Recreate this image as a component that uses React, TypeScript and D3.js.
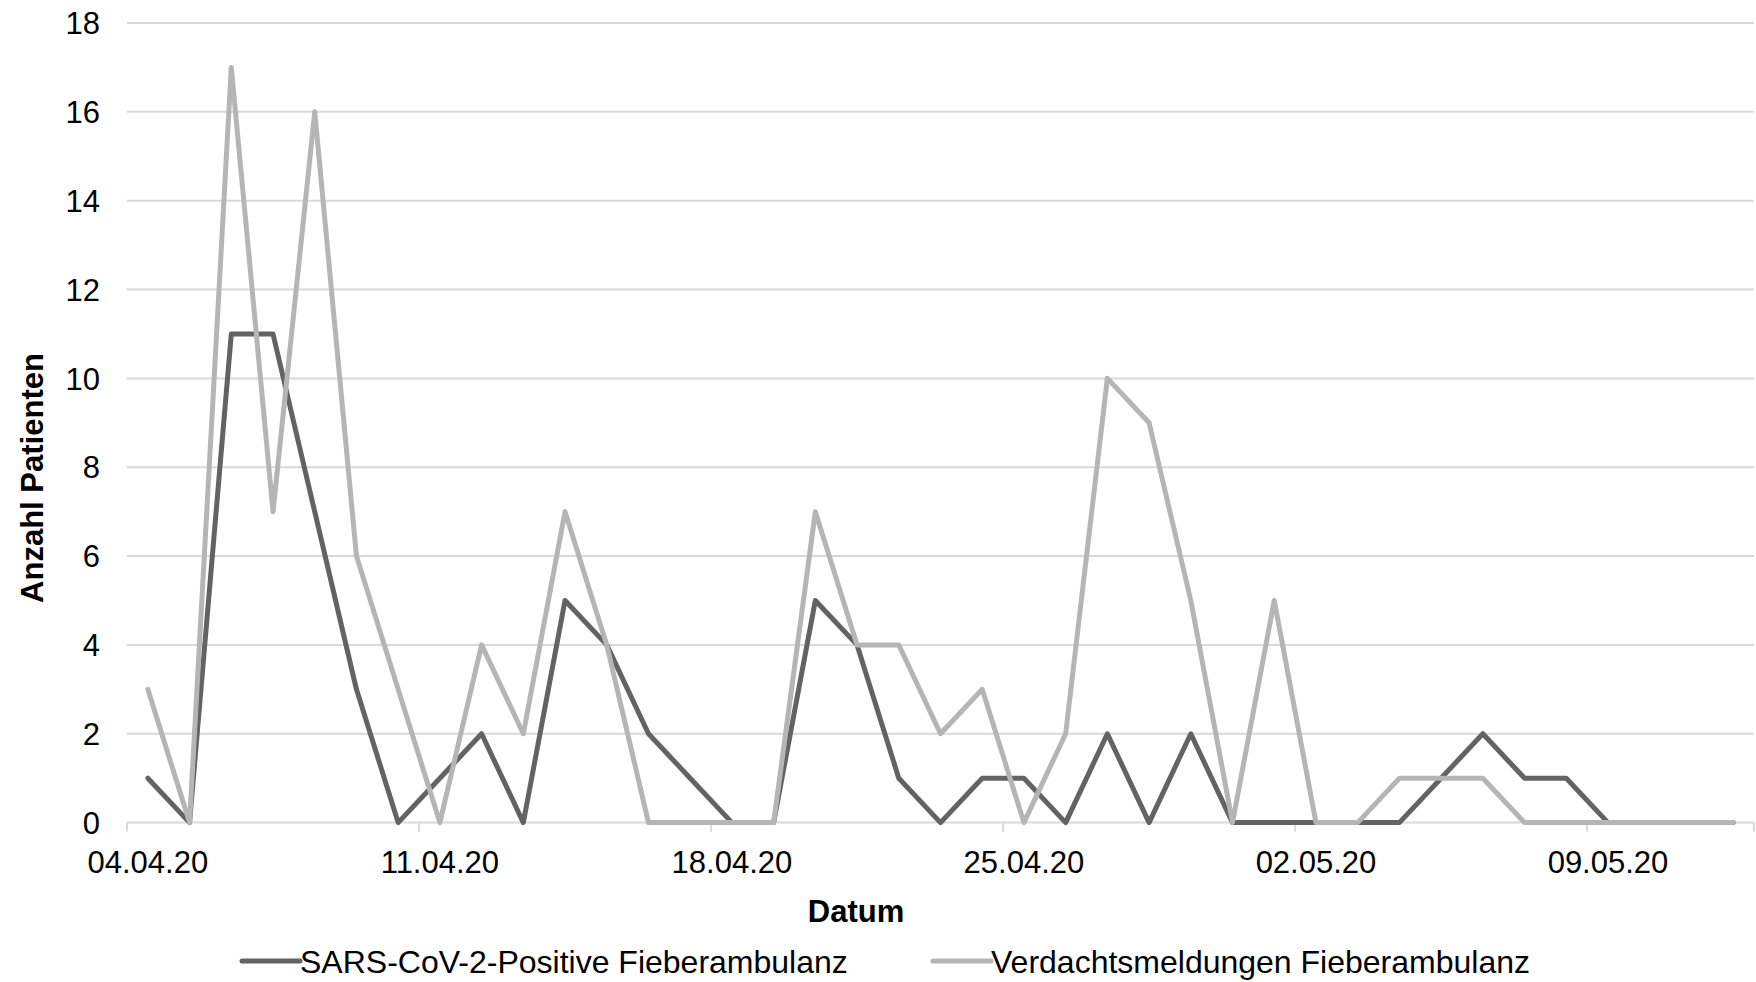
import React from "react";
import * as d3 from "d3";

// Daily counts, 04.04.20 – 12.05.20
const dates: string[] = [
  "04.04.20", "05.04.20", "06.04.20", "07.04.20", "08.04.20", "09.04.20", "10.04.20",
  "11.04.20", "12.04.20", "13.04.20", "14.04.20", "15.04.20", "16.04.20", "17.04.20",
  "18.04.20", "19.04.20", "20.04.20", "21.04.20", "22.04.20", "23.04.20", "24.04.20",
  "25.04.20", "26.04.20", "27.04.20", "28.04.20", "29.04.20", "30.04.20", "01.05.20",
  "02.05.20", "03.05.20", "04.05.20", "05.05.20", "06.05.20", "07.05.20", "08.05.20",
  "09.05.20", "10.05.20", "11.05.20", "12.05.20",
];

const positive: number[] = [
  1, 0, 11, 11, 7, 3, 0,
  1, 2, 0, 5, 4, 2, 1,
  0, 0, 5, 4, 1, 0, 1,
  1, 0, 2, 0, 2, 0, 0,
  0, 0, 0, 1, 2, 1, 1,
  0, 0, 0, 0,
];

const suspected: number[] = [
  3, 0, 17, 7, 16, 6, 3,
  0, 4, 2, 7, 4, 0, 0,
  0, 0, 7, 4, 4, 2, 3,
  0, 2, 10, 9, 5, 0, 5,
  0, 0, 1, 1, 1, 0, 0,
  0, 0, 0, 0,
];

const seriesNames: string[] = [
  "SARS-CoV-2-Positive Fieberambulanz",
  "Verdachtsmeldungen Fieberambulanz",
];
const seriesColors: string[] = ["#636363", "#b5b5b5"];

const yTicks: number[] = [0, 2, 4, 6, 8, 10, 12, 14, 16, 18];
const xLabelEvery = 7;

const W = 1756;
const H = 982;
const plot = { left: 127, right: 1754, top: 23, bottom: 822.6 };

export default function App() {
  const band = d3
    .scaleBand<string>()
    .domain(dates)
    .range([plot.left, plot.right])
    .paddingInner(0)
    .paddingOuter(0);
  const cx = (d: string) => (band(d) as number) + band.bandwidth() / 2;

  const y = d3.scaleLinear().domain([0, 18]).range([plot.bottom, plot.top]);

  const line = d3
    .line<number>()
    .x((_, i) => cx(dates[i]))
    .y((v) => y(v));

  const tickDates = dates.filter((_, i) => i % xLabelEvery === 0);
  const tickEdges = tickDates.map((d) => band(d) as number);
  tickEdges.push(plot.right);

  const font = "'Liberation Sans', Arial, sans-serif";

  return (
    <svg
      width={W}
      height={H}
      viewBox={`0 0 ${W} ${H}`}
      style={{ position: "absolute", left: 0, top: 0, background: "#fff" }}
      fontFamily={font}
    >
      {/* horizontal gridlines */}
      {yTicks.map((t) => (
        <line
          key={"g" + t}
          x1={plot.left}
          x2={plot.right}
          y1={y(t)}
          y2={y(t)}
          stroke="#d9d9d9"
          strokeWidth={2}
        />
      ))}
      {/* x axis tick marks */}
      {tickEdges.map((x, i) => (
        <line
          key={"tm" + i}
          x1={x}
          x2={x}
          y1={plot.bottom}
          y2={plot.bottom + 9}
          stroke="#d9d9d9"
          strokeWidth={2}
        />
      ))}
      {/* y tick labels */}
      {yTicks.map((t) => (
        <text
          key={"yl" + t}
          x={100}
          y={y(t)}
          dy="0.36em"
          textAnchor="end"
          fontSize={31}
          fill="#000"
        >
          {t}
        </text>
      ))}
      {/* x tick labels */}
      {tickDates.map((d) => (
        <text
          key={"xl" + d}
          x={cx(d)}
          y={862}
          dy="0.36em"
          textAnchor="middle"
          fontSize={31}
          fill="#000"
        >
          {d}
        </text>
      ))}
      {/* series */}
      {[positive, suspected].map((vals, k) => (
        <path
          key={"s" + k}
          d={line(vals) as string}
          fill="none"
          stroke={seriesColors[k]}
          strokeWidth={5}
          strokeLinejoin="round"
          strokeLinecap="round"
        />
      ))}
      {/* axis titles */}
      <text
        x={856}
        y={911}
        dy="0.36em"
        textAnchor="middle"
        fontSize={31}
        fontWeight="bold"
        fill="#000"
      >
        Datum
      </text>
      <text
        transform={`translate(32,478) rotate(-90)`}
        dy="0.36em"
        textAnchor="middle"
        fontSize={31}
        fontWeight="bold"
        fill="#000"
      >
        Anzahl Patienten
      </text>
      {/* legend */}
      {seriesNames.map((name, k) => {
        const x0 = k === 0 ? 242 : 933;
        return (
          <g key={"lg" + k}>
            <line
              x1={x0}
              x2={x0 + 58}
              y1={961}
              y2={961}
              stroke={seriesColors[k]}
              strokeWidth={5}
              strokeLinecap="round"
            />
            <text x={x0 + 58} y={961} dy="0.36em" fontSize={32} fill="#000">
              {name}
            </text>
          </g>
        );
      })}
    </svg>
  );
}
